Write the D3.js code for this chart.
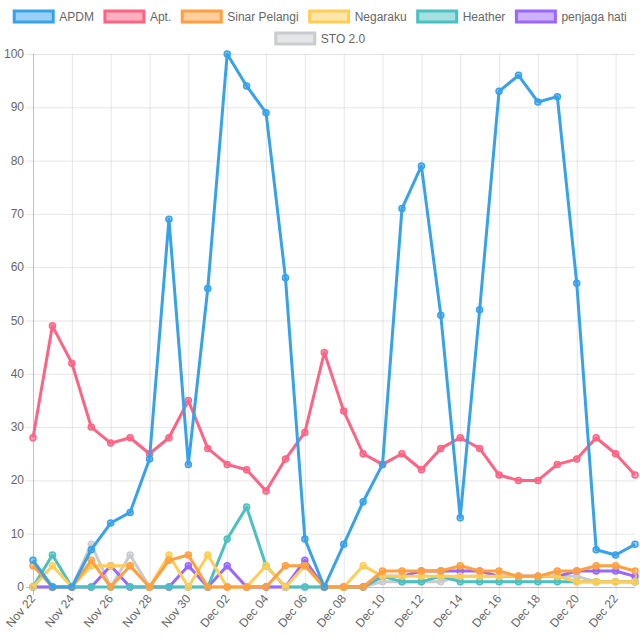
<!DOCTYPE html>
<html lang="en">
<head>
    <meta charset="UTF-8">
    <title>Chart</title>
    <script src="https://d3js.org/d3.v7.min.js"></script>
    <style>
        body { margin: 0; background: #fff; }
        text { font-family: "Liberation Sans", Arial, sans-serif; font-size: 12px; fill: #666; }
    </style>
</head>
<body>
    <script>
    var days = ["Nov 22","Nov 23","Nov 24","Nov 25","Nov 26","Nov 27","Nov 28","Nov 29","Nov 30","Dec 01",
        "Dec 02","Dec 03","Dec 04","Dec 05","Dec 06","Dec 07","Dec 08","Dec 09","Dec 10","Dec 11",
        "Dec 12","Dec 13","Dec 14","Dec 15","Dec 16","Dec 17","Dec 18","Dec 19","Dec 20","Dec 21",
        "Dec 22","Dec 23"];

    var apdm = [5,0,0,7,12,14,24,69,23,56,100,94,89,58,9,0,8,16,23,71,79,51,13,52,93,96,91,92,57,7,6,8];
    var apt = [28,49,42,30,27,28,25,28,35,26,23,22,18,24,29,44,33,25,23,25,22,26,28,26,21,20,20,23,24,28,25,21];
    var sinarPelangi = [4,0,0,5,0,4,0,5,6,0,0,0,0,4,4,0,0,0,3,3,3,3,4,3,3,2,2,3,3,4,4,3];
    var negaraku = [0,4,0,4,4,4,0,6,0,6,0,0,4,0,4,0,0,4,2,2,2,2,2,2,2,2,2,2,1,1,1,1];
    var heather = [0,6,0,0,0,0,0,0,0,0,9,15,4,0,0,0,0,0,2,1,1,2,1,1,1,1,1,1,1,1,1,1];
    var penjagaHati = [0,0,0,0,4,0,0,0,4,0,4,0,0,0,5,0,0,0,2,2,3,3,3,3,2,2,2,2,3,3,3,2];
    var sto = [0,0,0,8,0,6,0,0,0,0,0,0,0,0,0,0,0,0,1,1,1,1,2,2,2,2,2,2,2,1,1,1];

    var seriesNames = ["APDM","Apt.","Sinar Pelangi","Negaraku","Heather","penjaga hati","STO 2.0"];
    var seriesValues = [apdm, apt, sinarPelangi, negaraku, heather, penjagaHati, sto];
    var colors = ["54,162,235","255,99,132","255,159,64","255,205,86","75,192,192","153,102,255","201,203,207"];
    var yTicks = [0,10,20,30,40,50,60,70,80,90,100];

    var width = 640, height = 640;
    var plotLeft = 33, plotRight = 635, plotTop = 54, plotBottom = 587;

    var svg = d3.select("body").append("svg").attr("width", width).attr("height", height);

    // legend
    var legend = svg.append("g");
    var items = seriesNames.map(function(name, i) {
        var t = legend.append("text").text(name);
        var w = t.node().getComputedTextLength();
        t.remove();
        return { name: name, i: i, w: 40 + 6 + w };
    });
    var rows = [[]], rowW = [0];
    items.forEach(function(it) {
        var r = rows.length - 1;
        var add = (rows[r].length ? 10 : 0) + it.w;
        if (rowW[r] + add > width - 20) { rows.push([it]); rowW.push(it.w); }
        else { rows[r].push(it); rowW[r] += add; }
    });
    rows.forEach(function(row, r) {
        var lx = (width - rowW[r]) / 2;
        var ly = 10 + r * 22;
        row.forEach(function(it) {
            legend.append("rect")
                .attr("x", lx + 1).attr("y", ly + 1).attr("width", 39).attr("height", 11)
                .attr("fill", "rgba(" + colors[it.i] + ",0.5)")
                .attr("stroke", "rgb(" + colors[it.i] + ")").attr("stroke-width", 3);
            legend.append("text").attr("x", lx + 46).attr("y", ly + 11).text(it.name);
            lx += it.w + 10;
        });
    });

    var x = d3.scalePoint().domain(days).range([plotLeft, plotRight]);
    var y = d3.scaleLinear().domain([0, 100]).range([plotBottom, plotTop]);
    var shown = days.filter(function(d, i) { return i % 2 === 0; });

    // grid
    var grid = svg.append("g");
    grid.selectAll(".hy").data(yTicks).enter().append("line")
        .attr("x1", plotLeft - 7).attr("x2", plotRight)
        .attr("y1", function(d) { return y(d) + 0.5; }).attr("y2", function(d) { return y(d) + 0.5; })
        .attr("stroke", function(d) { return d === 0 ? "rgba(0,0,0,0.25)" : "rgba(0,0,0,0.1)"; });
    grid.selectAll(".vx").data(shown).enter().append("line")
        .attr("x1", function(d) { return x(d) + 0.5; }).attr("x2", function(d) { return x(d) + 0.5; })
        .attr("y1", plotTop).attr("y2", plotBottom + 8)
        .attr("stroke", function(d, i) { return i === 0 ? "rgba(0,0,0,0.25)" : "rgba(0,0,0,0.1)"; });

    svg.append("g").selectAll("text").data(yTicks).enter().append("text")
        .attr("x", plotLeft - 9).attr("y", function(d) { return y(d) + 4; })
        .attr("text-anchor", "end").text(function(d) { return d; });

    svg.append("g").selectAll("text").data(shown).enter().append("text")
        .attr("text-anchor", "end")
        .attr("transform", function(d) { return "translate(" + (x(d) + 3) + "," + (plotBottom + 12) + ") rotate(-50)"; })
        .text(function(d) { return d; });

    // lines, first series on top
    var line = d3.line()
        .x(function(d, i) { return x(days[i]); })
        .y(function(d) { return y(d); });

    var order = seriesValues.map(function(d, i) { return i; }).reverse();
    order.forEach(function(i) {
        var g = svg.append("g");
        g.append("path").datum(seriesValues[i])
            .attr("d", line).attr("fill", "none")
            .attr("stroke", "rgb(" + colors[i] + ")").attr("stroke-width", 3)
            .attr("stroke-linejoin", "round");
        g.selectAll("circle").data(seriesValues[i]).enter().append("circle")
            .attr("cx", function(d, k) { return x(days[k]); })
            .attr("cy", function(d) { return y(d); })
            .attr("r", 3)
            .attr("fill", "rgba(" + colors[i] + ",0.5)")
            .attr("stroke", "rgb(" + colors[i] + ")").attr("stroke-width", 1.5);
    });
    </script>
</body>
</html>
